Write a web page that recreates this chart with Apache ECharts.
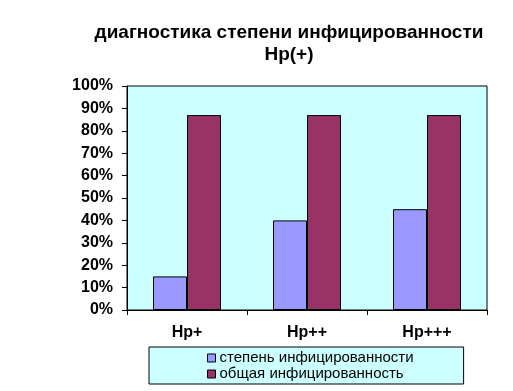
<!DOCTYPE html>
<html><head><meta charset="utf-8">
<script src="https://cdn.jsdelivr.net/npm/echarts@6/dist/echarts.min.js"></script>
<style>html,body{margin:0;padding:0;background:#fff}#c{width:513px;height:391px}</style>
</head><body><div id="c"></div>
<script>
const titleText = 'диагностика степени инфицированности\nHp(+)';
const categories = ['Hp+', 'Hp++', 'Hp+++'];
const seriesNames = ['степень инфицированности', 'общая инфицированность'];
const degreeValues = [15, 40, 45];
const totalValues = [87, 87, 87];
const yTicks = [0, 10, 20, 30, 40, 50, 60, 70, 80, 90, 100];

const chart = echarts.init(document.getElementById('c'), null, {renderer: 'canvas'});
chart.setOption({
  animation: false,
  backgroundColor: '#fff',
  title: {
    text: titleText,
    left: 284, top: 17, textAlign: 'center',
    textStyle: {fontFamily: 'Liberation Sans, Arial', fontWeight: 'bold', fontSize: 19, lineHeight: 22, color: '#000'}
  },
  grid: {left: 127, right: 26, top: 86, bottom: 81, show: true, backgroundColor: '#CCFFFF', borderColor: '#000', borderWidth: 1},
  legend: {
    data: seriesNames,
    orient: 'vertical',
    left: 149, top: 347,
    padding: [3, 50, 2, 58],
    itemGap: 0,
    itemWidth: 8, itemHeight: 8,
    icon: 'rect',
    backgroundColor: '#CCFFFF', borderColor: '#000', borderWidth: 1,
    textStyle: {fontFamily: 'Liberation Sans, Arial', fontSize: 15, lineHeight: 16, color: '#000', padding: [0,0,0,-1]},
    itemStyle: {borderColor: '#000', borderWidth: 1}
  },
  xAxis: {
    type: 'category', data: categories,
    axisLine: {lineStyle: {color: '#000', width: 1}},
    axisTick: {show: true, inside: false, length: 5, lineStyle: {color: '#000'}},
    axisLabel: {fontFamily: 'Liberation Sans, Arial', fontWeight: 'bold', fontSize: 16, color: '#000', margin: 15}
  },
  yAxis: {
    type: 'value', min: 0, max: 100, interval: 10,
    axisLine: {show: true, lineStyle: {color: '#000', width: 1}},
    axisTick: {show: true, length: 5, lineStyle: {color: '#000'}},
    splitLine: {show: false},
    axisLabel: {fontFamily: 'Liberation Sans, Arial', fontWeight: 'bold', fontSize: 16, color: '#000', margin: 14,
      formatter: v => yTicks.includes(v) ? v + '%' : ''}
  },
  series: [
    {name: seriesNames[0], type: 'bar', data: degreeValues, barWidth: 34, barGap: '0%',
     itemStyle: {color: '#9999FF', borderColor: '#000', borderWidth: 1}},
    {name: seriesNames[1], type: 'bar', data: totalValues, barWidth: 34, barGap: '0%',
     itemStyle: {color: '#993366', borderColor: '#000', borderWidth: 1}}
  ]
});
</script></body></html>
